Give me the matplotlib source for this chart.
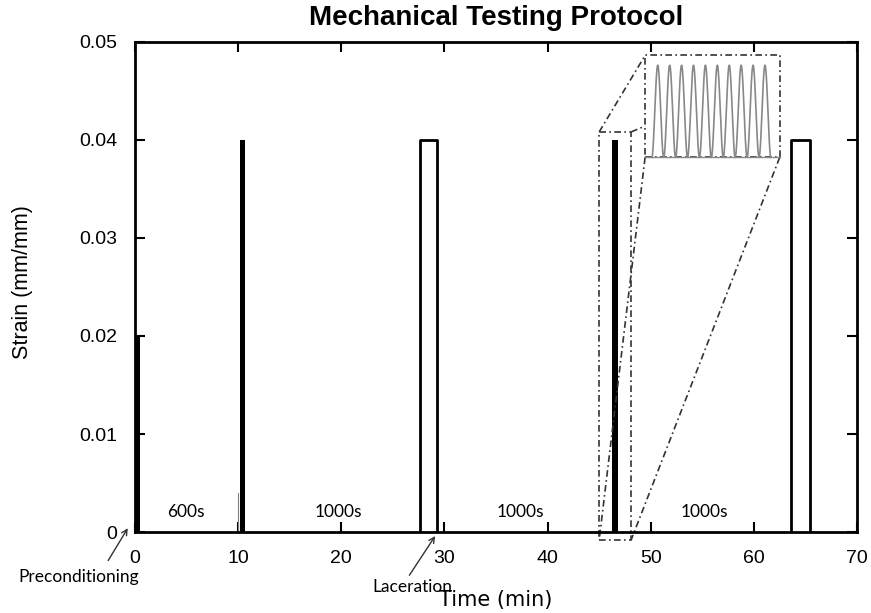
import numpy as np
import matplotlib
matplotlib.use('Agg')
import matplotlib.pyplot as plt
from matplotlib.patches import Rectangle

plt.rcParams['font.family'] = ['Liberation Sans', 'DejaVu Sans']
plt.rcParams['xtick.labelsize'] = 14
plt.rcParams['ytick.labelsize'] = 14

# loading blocks (time in min, strain in mm/mm)
block_start = [0.0, 10.15, 27.6, 46.2, 63.6]
block_end = [0.45, 10.65, 29.3, 46.8, 65.4]
block_strain = [0.02, 0.04, 0.04, 0.04, 0.04]
block_filled = [True, True, False, True, False]

# rest intervals between blocks
rest_labels = ['600s', '1000s', '1000s', '1000s']
rest_x = [4.9, 19.7, 37.4, 55.2]

# zoomed view of the cyclic block
zoom_x = [45.0, 48.1]
zoom_y = [-0.0008, 0.0408]
inset_x = [49.45, 62.5]
inset_y = [0.0382, 0.0486]
n_cycles = 10
wave_x = [50.1, 61.65]
wave_y = [0.0382, 0.0476]

xticks = [0, 10, 20, 30, 40, 50, 60, 70]
yticks = [0, 0.01, 0.02, 0.03, 0.04, 0.05]
ytick_labels = ['0', '0.01', '0.02', '0.03', '0.04', '0.05']

fig = plt.figure(figsize=(8.71, 6.13), dpi=100)
ax = fig.add_axes([0.155, 0.132, 0.829, 0.8])

for x0, x1, h, filled in zip(block_start, block_end, block_strain, block_filled):
    if filled:
        ax.bar(x0, h, width=x1 - x0, align='edge', color='black', linewidth=0)
    else:
        ax.plot([x0, x0, x1, x1], [0, h, h, 0], color='black', lw=2)

# small stray mark at the start of the second block
ax.plot([10.0, 10.0], [0, 0.004], color='gray', lw=0.8)

for lab, x in zip(rest_labels, rest_x):
    ax.text(x, 0.002, lab, ha='center', va='center', fontsize=12.5, family=['Lato', 'DejaVu Sans'])

# zoom box, inset box and connectors
dash = (0, (4, 2, 1, 2))
ax.add_patch(Rectangle((zoom_x[0], zoom_y[0]), zoom_x[1] - zoom_x[0], zoom_y[1] - zoom_y[0],
                       fill=False, ec='#333333', lw=1.2, linestyle=dash, clip_on=False))
ax.add_patch(Rectangle((inset_x[0], inset_y[0]), inset_x[1] - inset_x[0], inset_y[1] - inset_y[0],
                       fill=False, ec='#333333', lw=1.2, linestyle=dash, clip_on=False))
conn = [((zoom_x[0], zoom_y[1]), (inset_x[0], inset_y[1])),
        ((zoom_x[1], zoom_y[1]), (inset_x[0], 0.0414)),
        ((inset_x[0], inset_y[0]), (zoom_x[0], zoom_y[0])),
        ((inset_x[1], inset_y[0]), (zoom_x[1], zoom_y[0]))]
for p, q in conn:
    ax.plot([p[0], q[0]], [p[1], q[1]], color='#333333', lw=1.2, linestyle=dash, clip_on=False)

t = np.linspace(0, 1, 800)
wx = wave_x[0] + t * (wave_x[1] - wave_x[0])
wy = wave_y[0] + (wave_y[1] - wave_y[0]) * 0.5 * (1 - np.cos(2 * np.pi * n_cycles * t))
ax.plot(wx, wy, color='#888888', lw=1.2)
ax.plot(inset_x, [inset_y[0], inset_y[0]], color='#888888', lw=1.0)

# annotations below the axis
ax.text(-5.5, -0.0046, 'Preconditioning', ha='center', va='center', fontsize=12.5,
        family=['Lato', 'DejaVu Sans'])
ax.annotate('', xy=(-0.7, 0.0004), xytext=(-2.6, -0.0029), annotation_clip=False,
            arrowprops=dict(arrowstyle='->', color='#333333', lw=1, shrinkA=0, shrinkB=0))
ax.text(26.9, -0.0056, 'Laceration', ha='center', va='center', fontsize=12.5,
        family=['Lato', 'DejaVu Sans'])
ax.annotate('', xy=(29.1, -0.0004), xytext=(26.6, -0.0044), annotation_clip=False,
            arrowprops=dict(arrowstyle='->', color='#333333', lw=1, shrinkA=0, shrinkB=0))

ax.set_xlim(0, 70)
ax.set_ylim(0, 0.05)
ax.set_xticks(xticks)
ax.set_yticks(yticks)
ax.set_yticklabels(ytick_labels)
ax.tick_params(direction='in', length=7, width=1.5, top=True, right=True, pad=13)
for s in ax.spines.values():
    s.set_linewidth(2)

ax.set_xlabel('Time (min)', fontsize=15, family=['DejaVu Sans'])
ax.xaxis.set_label_coords(0.5, -0.118)
ax.set_ylabel('Strain (mm/mm)', fontsize=15.5)
ax.yaxis.set_label_coords(-0.141, 0.51)
ax.set_title('Mechanical Testing Protocol', fontsize=20, fontweight='bold', pad=12)

plt.savefig('out.png', dpi=100)
